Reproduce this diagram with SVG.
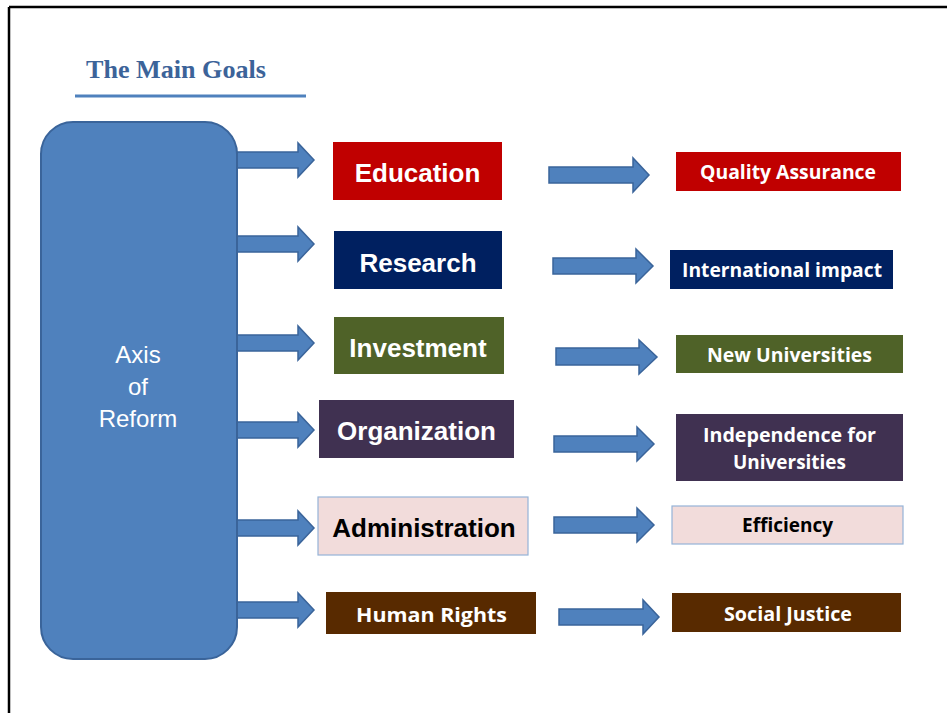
<svg xmlns="http://www.w3.org/2000/svg" width="947" height="713" viewBox="0 0 947 713">
<style>
.arr{fill:#4f81bd;stroke:#3a649a;stroke-width:1.5;stroke-linejoin:miter}
.ar{font-family:"Liberation Sans",Arial,sans-serif;font-weight:bold;font-size:26px;text-anchor:middle}
.cb{font-family:"Open Sans","Noto Sans",sans-serif;font-weight:bold;font-size:20px;text-anchor:middle}
.w{fill:#ffffff}
.k{fill:#000000}
.red{fill:#c00000}
.navy{fill:#002060}
.olive{fill:#4f6228}
.plum{fill:#403151}
.pink{fill:#f2dcdb;stroke:#95b3d7;stroke-width:1.2}
.brown{fill:#582a00}
</style>
<rect x="0" y="0" width="947" height="713" fill="#ffffff"/>
<g id="frame" stroke="#000" stroke-width="2.5" fill="none">
<line x1="9" y1="7" x2="947" y2="7"/>
<line x1="9" y1="7" x2="9" y2="713"/>
</g>
<g id="title">
<text x="86" y="78" font-family="'Liberation Serif','Times New Roman',serif" font-weight="bold" font-size="25px" fill="#3c6399" textLength="180" lengthAdjust="spacingAndGlyphs">The Main Goals</text>
<rect x="75" y="94.5" width="231" height="3" fill="#4f81bd"/>
</g>
<g id="connectors">
<polygon class="arr" points="237,152 298,152 298,143 314,160 298,177 298,168 237,168"/>
<polygon class="arr" points="237,236 298,236 298,227 314,244 298,261 298,252 237,252"/>
<polygon class="arr" points="237,335 298,335 298,326 314,343 298,360 298,351 237,351"/>
<polygon class="arr" points="237,422 298,422 298,413 314,430 298,447 298,438 237,438"/>
<polygon class="arr" points="237,520 298,520 298,511 314,528 298,545 298,536 237,536"/>
<polygon class="arr" points="237,602 298,602 298,593 314,610 298,627 298,618 237,618"/>
<polygon class="arr" points="549,167 633,167 633,158 649,175 633,192 633,183 549,183"/>
<polygon class="arr" points="553,258 636,258 636,249 653,266 636,283 636,274 553,274"/>
<polygon class="arr" points="556,348 639,348 639,340 657,357 639,374 639,365 556,365"/>
<polygon class="arr" points="554,436 637,436 637,427 654,444 637,461 637,452 554,452"/>
<polygon class="arr" points="554,517 637,517 637,508 654,525 637,542 637,533 554,533"/>
<polygon class="arr" points="559,609 643,609 643,600 659,617 643,634 643,625 559,625"/>
</g>
<g id="axis">
<rect x="41" y="122" width="196" height="537" rx="32" ry="32" fill="#4f81bd" stroke="#3a649a" stroke-width="2"/>
<text x="138" y="363" font-family="'Liberation Sans',Arial,sans-serif" font-size="24px" fill="#fff" text-anchor="middle">Axis</text>
<text x="138" y="395" font-family="'Liberation Sans',Arial,sans-serif" font-size="24px" fill="#fff" text-anchor="middle">of</text>
<text x="138" y="427" font-family="'Liberation Sans',Arial,sans-serif" font-size="24px" fill="#fff" text-anchor="middle">Reform</text>
</g>
<g id="education">
<rect class="red" x="333" y="142" width="169" height="58"/>
<text class="ar w" x="417.5" y="182">Education</text>
</g>
<g id="research">
<rect class="navy" x="334" y="231" width="168" height="58"/>
<text class="ar w" x="418" y="272">Research</text>
</g>
<g id="investment">
<rect class="olive" x="334" y="317" width="170" height="57"/>
<text class="ar w" x="418" y="357">Investment</text>
</g>
<g id="organization">
<rect class="plum" x="319" y="400" width="195" height="58"/>
<text class="ar w" x="416.5" y="440">Organization</text>
</g>
<g id="administration">
<rect class="pink" x="318" y="497" width="210" height="58"/>
<text class="ar k" x="424" y="537">Administration</text>
</g>
<g id="human-rights">
<rect class="brown" x="326" y="592" width="210" height="42"/>
<text class="cb w" x="431.5" y="622" font-size="22px" textLength="151" lengthAdjust="spacingAndGlyphs">Human Rights</text>
</g>
<g id="quality-assurance">
<rect class="red" x="676" y="152" width="225" height="39"/>
<text class="cb w" x="788" y="179" textLength="176" lengthAdjust="spacingAndGlyphs">Quality Assurance</text>
</g>
<g id="international-impact">
<rect class="navy" x="670" y="250" width="223" height="39"/>
<text class="cb w" x="782" y="277" textLength="200" lengthAdjust="spacingAndGlyphs">International impact</text>
</g>
<g id="new-universities">
<rect class="olive" x="676" y="335" width="227" height="38"/>
<text class="cb w" x="789.5" y="362" textLength="165" lengthAdjust="spacingAndGlyphs">New Universities</text>
</g>
<g id="independence">
<rect class="plum" x="676" y="414" width="227" height="67"/>
<text class="cb w" x="789.5" y="442" textLength="173" lengthAdjust="spacingAndGlyphs">Independence for</text>
<text class="cb w" x="789.5" y="469" textLength="113" lengthAdjust="spacingAndGlyphs">Universities</text>
</g>
<g id="efficiency">
<rect class="pink" x="672" y="506" width="231" height="38"/>
<text class="cb k" x="787.5" y="532" textLength="91" lengthAdjust="spacingAndGlyphs">Efficiency</text>
</g>
<g id="social-justice">
<rect class="brown" x="672" y="593" width="229" height="39"/>
<text class="cb w" x="788" y="621" textLength="128" lengthAdjust="spacingAndGlyphs">Social Justice</text>
</g>
</svg>
